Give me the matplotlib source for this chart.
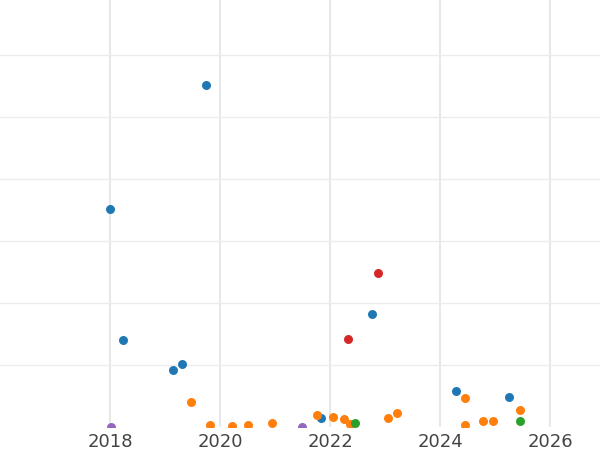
import matplotlib
matplotlib.use("Agg")
import matplotlib.pyplot as plt

blue_x = [2019.75, 2018.0, 2018.24, 2019.15, 2019.31, 2022.76, 2021.84, 2024.29, 2025.24]
blue_y = [5.52, 3.52, 1.40, 0.92, 1.02, 1.82, 0.15, 0.58, 0.48]
red_x = [2022.87, 2022.33]
red_y = [2.48, 1.42]
orange_x = [2019.47, 2019.82, 2020.22, 2020.51, 2020.95, 2021.76, 2022.05, 2022.25, 2022.36,
            2023.05, 2023.22, 2024.44, 2024.44, 2024.78, 2024.95, 2025.44]
orange_y = [0.40, 0.03, 0.02, 0.03, 0.06, 0.19, 0.16, 0.13, 0.05,
            0.15, 0.23, 0.47, 0.03, 0.10, 0.10, 0.27]
green_x = [2022.45, 2025.44]
green_y = [0.06, 0.10]
purple_x = [2018.02, 2021.49]
purple_y = [0.0, 0.0]
xticks = [2018, 2020, 2022, 2024, 2026]

fig = plt.figure(figsize=(6, 4.5), dpi=100)
ax = fig.add_axes([0, 23/450, 1, 427/450])
for x, y, c in [(blue_x, blue_y, '#1f77b4'), (orange_x, orange_y, '#ff7f0e'),
                (green_x, green_y, '#2ca02c'), (red_x, red_y, '#d62728'),
                (purple_x, purple_y, '#9467bd')]:
    ax.scatter(x, y, s=42, color=c, zorder=3, linewidths=0)
ax.set_xlim(2016.0, 2026.9)
ax.set_ylim(0, 427/62)
ax.set_xticks(xticks)
ax.set_xticklabels([str(t) for t in xticks])
ax.set_yticks([1, 2, 3, 4, 5, 6])
ax.set_yticklabels([])
ax.xaxis.grid(True, color='#e8e8e8', lw=1.5)
ax.yaxis.grid(True, color='#ececec', lw=1)
ax.set_axisbelow(True)
for s in ax.spines.values():
    s.set_visible(False)
ax.tick_params(length=0, labelsize=13, labelcolor='#444444', pad=4)
fig.savefig("out.png", dpi=100)
